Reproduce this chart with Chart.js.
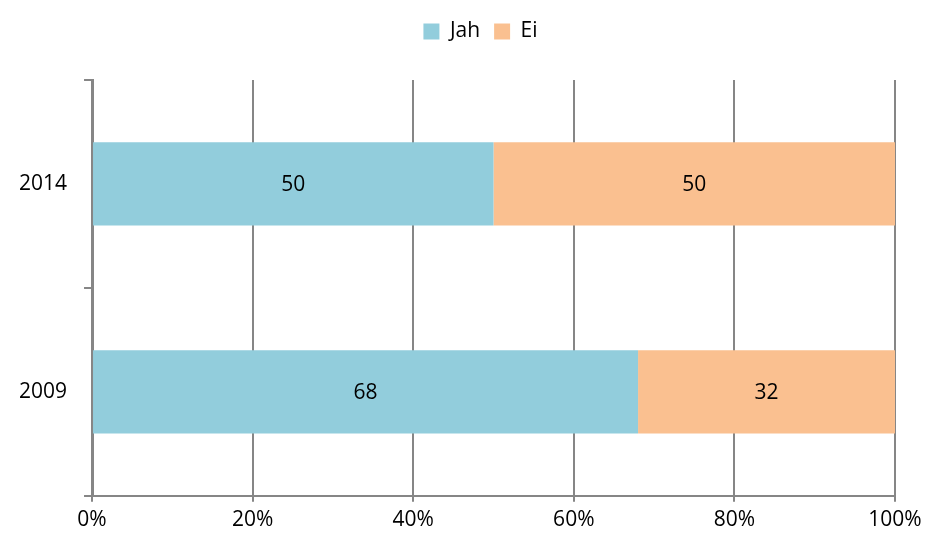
<!DOCTYPE html>
<html>
<head>
<meta charset="utf-8">
<script src="https://cdn.jsdelivr.net/npm/chart.js@4/dist/chart.umd.min.js"></script>
<style>
  html, body { margin: 0; padding: 0; background: #fff; }
  #wrap { width: 930px; height: 545px; }
</style>
</head>
<body>
<div id="wrap"><canvas id="myChart" width="930" height="545"></canvas></div>
<script>
// categories (top to bottom) and series values
var years = ['2014', '2009'];
var jahValues = [50, 68];
var eiValues = [50, 32];
var xTicks = [0, 20, 40, 60, 80, 100];

var axisGray = '#868686';
var fontFam = '"Open Sans", sans-serif';

//plugin to write the value in the middle of each bar
var barLabels = {
   id: 'barLabels',
   afterDatasetsDraw: function(chart){
      var ctx = chart.ctx;
      ctx.save();
      ctx.font = '21px ' + fontFam;
      ctx.fillStyle = '#000';
      ctx.textAlign = 'center';
      ctx.textBaseline = 'middle';
      chart.data.datasets.forEach(function(ds, i){
         var meta = chart.getDatasetMeta(i);
         meta.data.forEach(function(bar, j){
            var p = bar.getCenterPoint();
            ctx.fillText(ds.data[j], p.x, p.y + 1);
         });
      });
      ctx.restore();
   }
};

//plugin to leave more room under the legend and center it like the original
var legendGap = {
   id: 'legendGap',
   beforeInit: function(chart){
      var fit = chart.legend.fit;
      chart.legend.fit = function(){
         fit.bind(chart.legend)();
         this.height += 28;
      };
   },
   afterLayout: function(chart){
      chart.legend.left += 32;
      chart.legend.right += 32;
   }
};

var ctx = document.getElementById('myChart').getContext('2d');
var chart = new Chart(ctx, {
   type: 'bar',
   data: {
      labels: years,
      datasets: [{
         label: 'Jah',
         data: jahValues,
         backgroundColor: '#92CDDC',
         barPercentage: 0.4,
         categoryPercentage: 1
      }, {
         label: 'Ei',
         data: eiValues,
         backgroundColor: '#FAC090',
         barPercentage: 0.4,
         categoryPercentage: 1
      }]
   },
   options: {
      indexAxis: 'y',
      responsive: false,
      animation: false,
      layout: { padding: { left: 2, right: 35, top: 7, bottom: 6 } },
      plugins: {
         legend: {
            position: 'top',
            labels: {
               boxWidth: 16,
               boxHeight: 16,
               padding: 14,
               color: '#000',
               font: { family: fontFam, size: 21 }
            }
         },
         tooltip: { enabled: false }
      },
      scales: {
         x: {
            stacked: true,
            min: 0,
            max: 100,
            afterBuildTicks: function(axis){
               axis.ticks = xTicks.map(function(v){ return { value: v }; });
            },
            ticks: {
               color: '#000',
               padding: 6,
               font: { family: fontFam, size: 21 },
               callback: function(v){ return v + '%'; }
            },
            grid: {
               color: axisGray,
               lineWidth: 2,
               tickLength: 6,
               drawTicks: true
            },
            border: { color: axisGray, width: 2 }
         },
         y: {
            stacked: true,
            ticks: {
               color: '#000',
               padding: 17,
               font: { family: fontFam, size: 21 }
            },
            grid: {
               offset: true,
               drawOnChartArea: false,
               color: axisGray,
               lineWidth: 2,
               tickLength: 8
            },
            border: { color: axisGray, width: 3 }
         }
      }
   },
   plugins: [barLabels, legendGap]
});
</script>
</body>
</html>
